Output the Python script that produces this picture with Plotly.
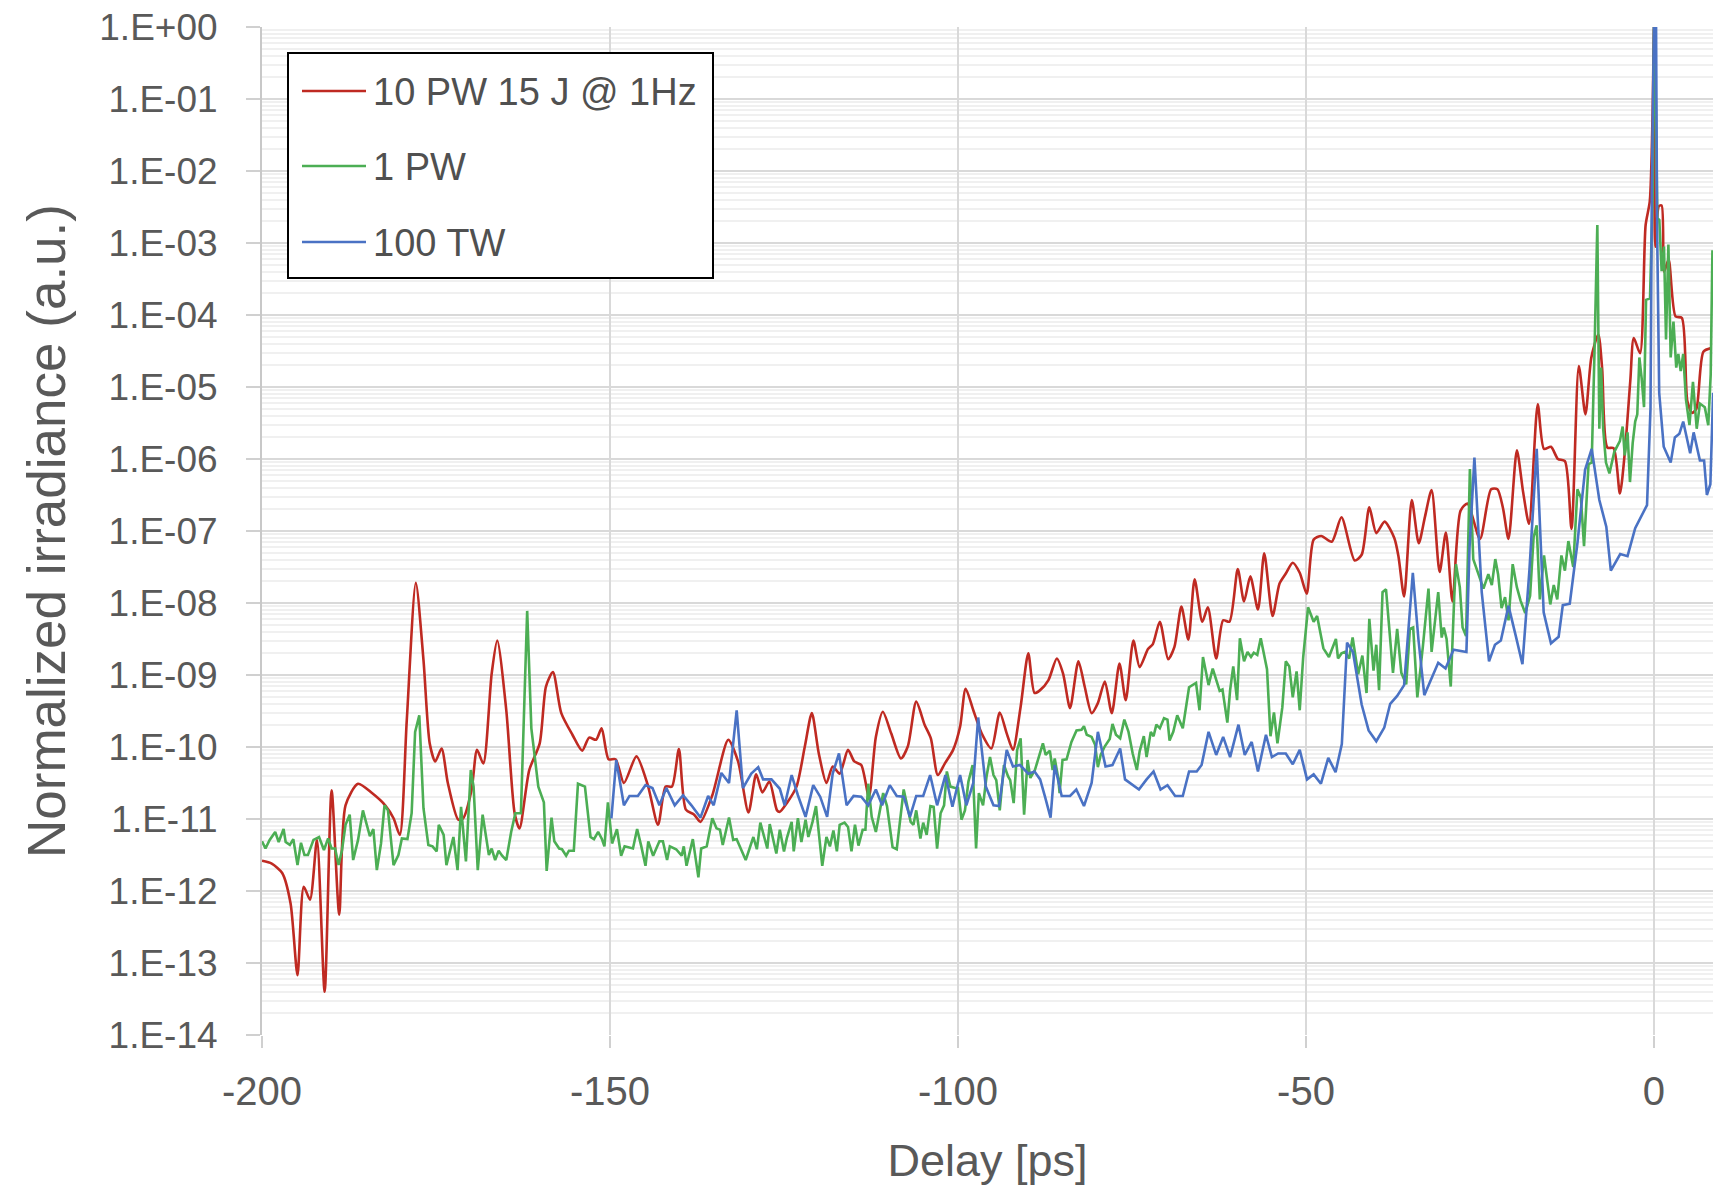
import numpy as np
import plotly.graph_objects as go

# ---------------- data (x in ps, y as log10 of normalized irradiance) -------------
red_x = [-200.0, -198.6, -197.1, -195.9, -194.9, -194.0, -193.1, -192.1, -191.0, -190.0, -188.9, -188.0,
         -186.2, -184.2, -182.3, -181.1, -180.2, -179.2, -177.9, -176.8, -175.9, -175.1, -174.2, -173.3,
         -171.8, -171.1, -169.9, -169.1, -168.2, -167.0, -166.2, -164.9, -163.7, -163.0, -161.6, -160.1,
         -159.2, -158.2, -157.0, -155.4, -154.0, -153.0, -152.0, -151.2, -150.2, -149.2, -148.0, -146.2,
         -144.6, -143.1, -142.0, -141.1, -140.1, -139.1, -137.9, -137.0, -135.3, -133.0, -131.6, -130.1,
         -129.0, -128.1, -127.1, -126.0, -125.6, -124.6, -123.2, -122.0, -121.0, -120.0, -118.9, -118.0,
         -117.0, -115.8, -114.9, -113.9, -112.8, -111.8, -110.8, -109.6, -108.2, -107.2, -106.0, -104.8,
         -103.9, -102.9, -101.9, -100.7, -99.7, -98.9, -97.8, -96.6, -95.2, -94.0, -93.0, -92.1, -91.0,
         -89.9, -89.0, -88.2, -87.0, -85.8, -84.9, -83.9, -82.7, -81.8, -80.8, -79.9, -78.9, -77.9, -76.8,
         -75.9, -74.8, -73.9, -72.7, -72.0, -71.0, -69.8, -68.9, -67.9, -66.9, -66.0, -64.9, -64.1, -62.9,
         -61.9, -61.0, -59.8, -58.9, -58.0, -56.9, -56.0, -54.8, -53.8, -52.9, -51.9, -50.9, -49.9, -48.9,
         -47.8, -46.3, -44.9, -43.0, -42.0, -40.9, -39.9, -38.7, -37.3, -36.7, -35.9, -34.8, -33.8, -32.9,
         -31.95, -30.8, -29.9, -28.95, -27.8, -26.8, -25.0, -23.4, -22.5, -21.7, -20.9, -19.7, -18.8,
         -17.95, -16.7, -15.8, -14.8, -13.8, -12.8, -11.85, -10.8, -9.85, -9.0, -8.0, -7.45, -6.7, -5.8,
         -4.9, -4.2, -3.4, -2.9, -2.0, -1.2, -0.6, -0.2, 0.0, 0.2, 0.7, 1.1, 1.45, 2.1, 3.1, 4.0, 4.8,
         5.5, 6.1, 7.1, 8.2]
red_log10 = [-11.58, -11.62, -11.75, -12.17, -13.17, -11.94, -12.12, -11.29, -13.40, -10.60, -12.33, -10.81,
             -10.51, -10.64, -10.81, -10.99, -11.22, -9.63, -7.72, -8.79, -9.95, -10.20, -10.02, -10.50,
             -11.01, -10.99, -10.60, -10.04, -10.23, -8.98, -8.52, -9.49, -10.92, -11.13, -10.32, -9.95,
             -9.16, -8.96, -9.53, -9.83, -10.05, -9.87, -9.90, -9.74, -10.17, -10.17, -10.50, -10.13,
             -10.52, -11.08, -10.55, -10.55, -10.03, -10.87, -10.94, -11.04, -10.67, -9.90, -10.20, -10.91,
             -10.38, -10.63, -10.48, -10.88, -10.90, -10.78, -10.55, -9.99, -9.53, -10.09, -10.50, -10.27,
             -10.37, -10.04, -10.20, -10.25, -10.69, -9.86, -9.51, -9.81, -10.16, -9.99, -9.37, -9.69,
             -9.88, -10.39, -10.23, -10.04, -9.72, -9.19, -9.49, -9.81, -10.02, -9.52, -9.81, -10.04, -9.44,
             -8.70, -9.25, -9.21, -9.07, -8.77, -8.98, -9.46, -8.81, -9.16, -9.53, -9.39, -9.09, -9.53, -8.84,
             -9.35, -8.52, -8.89, -8.64, -8.57, -8.26, -8.78, -8.61, -8.05, -8.51, -7.67, -8.26, -8.06, -8.77,
             -8.24, -8.26, -7.53, -7.98, -7.63, -8.09, -7.31, -8.18, -7.73, -7.59, -7.44, -7.58, -7.87, -7.12,
             -7.07, -7.15, -6.81, -7.41, -7.33, -6.67, -7.03, -6.87, -7.10, -7.36, -7.91, -6.57, -7.17, -6.80,
             -6.43, -7.57, -7.02, -7.98, -6.72, -6.62, -7.11, -6.42, -6.42, -6.68, -7.11, -5.88, -6.46,
             -6.90, -5.24, -5.86, -5.83, -6.00, -6.03, -6.97, -4.71, -5.38, -4.59, -4.27, -4.74, -5.84, -5.85,
             -6.48, -5.92, -4.91, -4.32, -4.53, -2.75, -2.42, -1.20, 0.0, -3.05, -2.49, -2.48, -3.40, -3.23,
             -4.02, -4.04, -5.20, -5.36, -5.30, -4.51, -4.46]

green_x = [-200.0, -199.5, -198.9, -198.1, -197.6, -196.9, -196.6, -196.0, -195.5, -194.9, -194.4, -193.9,
           -193.4, -192.6, -191.8, -191.1, -190.5, -190.0, -189.5, -189.0, -188.5, -188.0, -187.4, -186.9,
           -186.2, -185.5, -185.0, -184.5, -184.0, -183.5, -182.9, -182.4, -181.9, -181.1, -180.4, -179.9,
           -179.1, -178.5, -178.0, -177.4, -176.8, -176.1, -175.5, -174.9, -174.6, -173.9, -173.5, -172.5,
           -171.9, -171.4, -170.7, -170.0, -169.6, -169.0, -168.3, -167.9, -167.4, -167.0, -166.5, -166.0,
           -165.5, -164.9, -164.2, -163.6, -162.8, -161.9, -161.3, -160.3, -159.5, -159.1, -158.4, -158.0,
           -157.3, -156.9, -156.3, -155.9, -155.2, -154.6, -153.6, -152.8, -152.3, -151.7, -151.2, -150.8,
           -150.3, -149.7, -149.0, -148.4, -147.9, -146.7, -146.1, -145.5, -144.9, -144.5, -143.8, -142.9,
           -142.4, -141.8, -141.4, -140.5, -139.7, -139.4, -139.0, -138.1, -137.3, -136.9, -136.1, -135.3,
           -134.7, -134.2, -133.8, -132.9, -132.3, -131.8, -130.5, -129.4, -128.9, -128.4, -127.4, -127.05,
           -126.1, -125.6, -125.0, -124.6, -123.9, -123.6, -123.0, -122.5, -121.9, -121.5, -120.9, -120.4,
           -120.0, -119.5, -118.9, -118.4, -117.9, -117.4, -117.0, -116.3, -115.8, -115.3, -114.8, -114.3,
           -113.7, -113.3, -112.9, -112.4, -111.8, -110.75, -110.2, -109.4, -108.8, -107.8, -106.8, -106.4,
           -106.0, -105.4, -105.0, -104.5, -103.96, -103.5, -103.0, -102.5, -102.0, -101.6, -101.1, -100.4,
           -100.0, -99.5, -99.0, -98.5, -97.9, -97.4, -97.0, -96.4, -95.9, -95.4, -94.9, -94.5, -94.0,
           -93.4, -92.8, -92.5, -92.0, -91.5, -91.0, -90.5, -90.0, -89.6, -88.95, -88.3, -87.8, -87.4,
           -86.8, -86.4, -86.1, -85.6, -85.4, -84.98, -84.4, -83.7, -82.97, -82.25, -81.9, -81.5, -80.8,
           -80.3, -79.9, -79.5, -78.9, -78.2, -77.8, -77.3, -76.7, -76.1, -75.5, -74.9, -74.3, -73.9, -73.3,
           -72.9, -72.3, -71.9, -71.5, -71.0, -70.4, -69.9, -69.6, -69.07, -68.5, -67.7, -66.8, -65.8, -65.3,
           -64.8, -64.0, -63.4, -62.8, -62.4, -62.0, -61.3, -60.9, -60.45, -59.9, -59.5, -58.9, -58.4, -57.9,
           -57.5, -57.0, -56.5, -55.6, -55.1, -54.6, -54.1, -53.4, -52.9, -52.4, -51.9, -51.35, -50.9, -50.4,
           -49.7, -48.9, -48.4, -47.5, -46.7, -45.7, -45.4, -44.9, -44.4, -43.8, -43.3, -42.5, -41.9, -41.3,
           -40.9, -40.3, -39.9, -39.5, -39.0, -38.5, -38.0, -37.5, -36.9, -36.3, -35.6, -35.07, -34.6, -34.0,
           -33.2, -32.4, -31.95, -31.0, -30.5, -30.2, -29.8, -29.2, -28.7, -28.45, -27.9, -27.5, -27.0,
           -26.45, -25.97, -25.5, -24.5, -23.8, -23.3, -22.8, -22.4, -21.9, -21.4, -20.9, -20.3, -19.7,
           -19.16, -18.5, -17.8, -17.3, -16.86, -16.4, -15.8, -14.9, -14.4, -13.9, -13.3, -12.8, -12.3,
           -11.6, -11.0, -10.5, -10.05, -9.4, -8.95, -8.57, -8.14, -7.85, -7.6, -7.3, -6.9, -6.4, -5.7, -4.9,
           -4.5, -4.2, -3.8, -3.45, -3.06, -2.7, -2.4, -2.1, -1.77, -1.43, -1.14, -0.57, -0.18, 0.0, 0.2,
           0.48, 0.77, 1.1, 1.44, 1.73, 2.07, 2.4, 2.8, 3.2, 3.5, 3.84, 4.2, 4.6, 5.1, 5.6, 6.14, 6.6, 7.3,
           7.8, 8.15, 8.4]
green_log10 = [-11.31, -11.41, -11.29, -11.18, -11.32, -11.14, -11.32, -11.36, -11.28, -11.64, -11.33, -11.50,
               -11.50, -11.29, -11.25, -11.43, -11.27, -11.41, -11.41, -11.64, -11.43, -11.08, -10.94, -11.57,
               -11.29, -10.88, -11.06, -11.24, -11.14, -11.71, -11.34, -10.81, -10.88, -11.64, -11.50, -11.27,
               -11.28, -10.92, -9.79, -9.56, -10.85, -11.36, -11.38, -11.45, -11.08, -11.22, -11.64, -11.25,
               -11.71, -10.83, -11.59, -10.32, -10.55, -11.71, -10.94, -11.18, -11.50, -11.41, -11.57, -11.44,
               -11.51, -11.57, -11.18, -10.92, -10.92, -8.11, -9.74, -10.55, -10.77, -11.72, -10.98, -11.31,
               -11.41, -11.42, -11.51, -11.44, -11.44, -10.51, -10.55, -11.25, -11.28, -11.18, -11.27, -11.38,
               -10.77, -11.34, -11.14, -11.51, -11.38, -11.41, -11.14, -11.38, -11.65, -11.31, -11.51, -11.31,
               -11.31, -11.57, -11.38, -11.42, -11.51, -11.38, -11.65, -11.28, -11.81, -11.41, -11.38, -10.99,
               -11.13, -11.15, -11.36, -10.98, -11.29, -11.28, -11.57, -11.25, -11.42, -11.05, -11.41, -11.07,
               -11.48, -11.15, -11.45, -11.27, -11.04, -11.45, -10.99, -11.32, -11.01, -11.25, -11.04, -10.82,
               -11.18, -11.65, -11.25, -11.38, -11.16, -11.45, -11.08, -11.05, -11.11, -11.45, -11.08, -11.37,
               -11.15, -11.15, -10.51, -10.97, -11.18, -10.64, -10.82, -11.39, -11.42, -10.59, -11.04, -11.08,
               -10.88, -11.27, -11.05, -11.22, -10.82, -10.83, -11.41, -10.92, -10.81, -10.34, -10.55, -10.57,
               -10.57, -11.01, -10.88, -10.48, -10.25, -11.41, -10.64, -10.81, -10.41, -10.14, -10.39, -10.46,
               -10.88, -10.25, -10.41, -10.46, -10.78, -10.04, -9.88, -10.94, -10.18, -10.43, -10.32, -10.09,
               -9.95, -10.11, -10.05, -10.32, -10.16, -10.43, -10.64, -10.18, -10.17, -9.93, -9.77, -9.76, -9.71,
               -9.83, -9.86, -9.97, -10.28, -10.11, -9.99, -9.89, -9.68, -9.83, -9.88, -9.62, -9.79, -10.09,
               -10.32, -10.06, -9.85, -10.14, -9.79, -9.85, -9.69, -9.74, -9.60, -9.62, -9.91, -9.79, -9.56,
               -9.74, -9.17, -9.11, -9.49, -8.75, -9.14, -8.91, -9.08, -9.22, -9.20, -9.66, -9.21, -8.88, -9.35,
               -8.49, -8.81, -8.68, -8.75, -8.69, -8.72, -8.49, -8.92, -9.85, -9.52, -9.95, -9.45, -8.81, -8.88,
               -9.31, -8.95, -9.49, -8.75, -8.06, -8.26, -8.18, -8.63, -8.75, -8.50, -8.77, -8.70, -8.68, -8.77,
               -8.48, -8.99, -8.73, -9.25, -8.22, -8.94, -8.58, -9.21, -7.85, -7.81, -8.38, -8.97, -8.36, -8.97,
               -9.13, -8.36, -8.34, -9.31, -8.60, -7.80, -8.68, -7.85, -8.48, -8.34, -8.50, -9.16, -7.92, -7.46,
               -7.78, -8.34, -8.46, -6.14, -7.39, -7.53, -7.80, -7.60, -7.75, -7.39, -7.60, -8.07, -7.92, -8.24,
               -7.46, -7.78, -7.97, -8.14, -7.90, -7.09, -6.92, -7.95, -7.34, -8.02, -7.75, -7.95, -7.34, -7.55,
               -7.14, -7.50, -6.42, -6.54, -7.21, -6.07, -6.05, -4.61, -2.75, -5.58, -4.73, -5.58, -6.05, -6.20,
               -5.90, -5.75, -5.55, -5.95, -5.63, -6.32, -5.78, -5.48, -5.38, -4.59, -4.88, -5.28, -3.79, -3.77,
               -2.30, 0.0, -0.62, -2.65, -2.68, -3.39, -3.05, -4.34, -3.02, -4.59, -4.09, -4.73, -4.54, -4.78,
               -4.54, -5.18, -5.53, -4.93, -5.58, -5.23, -5.28, -5.53, -4.83, -3.10]

blue_x = [-149.8, -149.1, -148.0, -147.2, -146.0, -144.9, -143.9, -142.9, -141.9, -140.7, -139.5, -138.3,
          -137.0, -135.9, -135.1, -134.0, -132.9, -131.8, -130.9, -129.7, -128.7, -128.0, -126.8, -125.6,
          -124.9, -123.9, -123.0, -121.9, -120.8, -119.8, -118.8, -118.0, -117.1, -116.0, -115.0, -113.9,
          -112.9, -111.8, -110.9, -109.8, -108.8, -107.8, -106.9, -106.0, -105.0, -104.0, -103.0, -101.8,
          -100.8, -99.7, -98.8, -97.8, -97.1, -96.0, -94.9, -94.1, -93.0, -92.1, -91.1, -89.9, -89.0, -88.2,
          -87.5, -86.7, -86.1, -85.1, -83.9, -83.0, -81.9, -80.8, -79.9, -78.8, -77.8, -76.7, -76.0, -75.1,
          -74.0, -72.9, -71.9, -70.9, -69.9, -68.8, -67.7, -66.8, -65.7, -65.0, -64.0, -62.9, -61.9, -60.9,
          -59.7, -58.8, -57.8, -56.9, -55.75, -54.9, -54.0, -52.9, -51.9, -50.9, -49.85, -48.9, -47.85,
          -46.8, -45.75, -44.85, -44.1, -43.25, -42.0, -41.0, -39.9, -38.75, -37.9, -36.9, -35.9, -34.65,
          -33.85, -33.0, -31.95, -31.0, -29.95, -28.8, -26.95, -26.5, -25.8, -24.75, -23.7, -22.85, -22.0,
          -20.9, -19.85, -18.9, -17.9, -16.85, -15.85, -14.8, -13.7, -13.1, -12.1, -11.0, -9.9, -8.95,
          -7.85, -6.85, -6.2, -4.85, -3.8, -2.7, -1.0, -0.5, -0.3, -0.15, 0.0, 0.15, 0.3, 0.45, 0.75, 1.4,
          1.8, 2.4, 3.0, 3.65, 4.2, 5.2, 5.7, 6.6, 7.2, 7.6, 8.1, 8.5]
blue_log10 = [-10.99, -10.18, -10.81, -10.68, -10.68, -10.53, -10.57, -10.81, -10.57, -10.81, -10.67, -10.81,
              -10.98, -10.68, -10.81, -10.36, -10.50, -9.49, -10.57, -10.37, -10.28, -10.45, -10.45, -10.58,
              -10.81, -10.39, -10.67, -10.97, -10.53, -10.69, -10.97, -10.37, -10.09, -10.81, -10.68, -10.69,
              -10.81, -10.59, -10.81, -10.53, -10.68, -10.69, -10.97, -10.68, -10.68, -10.39, -10.81, -10.39,
              -10.83, -10.39, -10.81, -10.50, -9.59, -10.55, -10.81, -10.82, -10.04, -10.27, -10.25, -10.37,
              -10.34, -10.45, -10.69, -10.98, -10.25, -10.68, -10.68, -10.59, -10.82, -10.50, -9.79, -10.27,
              -10.25, -10.02, -10.45, -10.51, -10.59, -10.45, -10.34, -10.59, -10.53, -10.68, -10.68, -10.34,
              -10.34, -10.25, -9.79, -10.11, -9.86, -10.14, -9.69, -10.11, -9.93, -10.34, -9.83, -10.14,
              -10.09, -10.09, -10.24, -10.04, -10.45, -10.38, -10.51, -10.15, -10.35, -9.96, -8.55, -8.68,
              -9.41, -9.77, -9.92, -9.73, -9.40, -9.29, -9.14, -7.58, -8.50, -9.28, -9.05, -8.83, -8.91, -8.65,
              -8.68, -7.23, -5.98, -7.85, -8.81, -8.58, -8.52, -8.04, -8.46, -8.85, -7.55, -5.86, -8.13, -8.56,
              -8.47, -8.03, -8.01, -7.17, -6.15, -5.86, -6.57, -6.94, -7.55, -7.32, -7.35, -6.96, -6.64, -5.30,
              -2.20, -0.80, 0.0, -0.50, 0.0, -2.80, -5.08, -5.83, -5.92, -6.05, -5.70, -5.65, -5.48, -5.92,
              -5.63, -6.02, -6.02, -6.50, -6.35, -5.08]

series_names = ["10 PW 15 J @ 1Hz", "1 PW", "100 TW"]
series_colors = ["#BF2A22", "#4CAE54", "#4A72C4"]

x_tick_vals = [-200, -150, -100, -50, 0]
y_exponents = list(range(0, -15, -1))
y_tick_vals = [10.0 ** e for e in y_exponents]
y_tick_text = ["1.E+00" if e == 0 else "1.E-%02d" % (-e) for e in y_exponents]
minor_vals = [m * 10.0 ** e for e in range(-14, 0) for m in range(2, 10)]

FONT = "Liberation Sans, Arial, sans-serif"
TXT = "#595959"

fig = go.Figure()
for xs, ls, name, col, shape in [
    (red_x, red_log10, series_names[0], series_colors[0], "spline"),
    (green_x, green_log10, series_names[1], series_colors[1], "linear"),
    (blue_x, blue_log10, series_names[2], series_colors[2], "linear"),
]:
    fig.add_trace(go.Scatter(
        x=xs, y=np.power(10.0, np.array(ls)), mode="lines", name=name,
        line=dict(color=col, width=2.6, shape=shape, smoothing=0.7 if shape == "spline" else None),
        showlegend=False, cliponaxis=True,
    ))

# plot area in pixels: left 262, right 1713, top 27, bottom 1035
W, H = 1713, 1186
L, R, T, B = 262, 0, 27, 151
pw, ph = W - L - R, H - T - B


def px(X):
    return (X - L) / pw


def py(Y):
    return (H - B - Y) / ph


# legend drawn as a framed box
shapes = [dict(type="rect", xref="paper", yref="paper", x0=px(288), x1=px(713), y0=py(278), y1=py(53),
               line=dict(color="black", width=2), fillcolor="white", layer="above")]
annotations = []
rows_y = [91, 166, 242]
for name, col, ry in zip(series_names, series_colors, rows_y):
    shapes.append(dict(type="line", xref="paper", yref="paper", x0=px(302), x1=px(366), y0=py(ry), y1=py(ry),
                       line=dict(color=col, width=2.6), layer="above"))
    annotations.append(dict(xref="paper", yref="paper", x=px(371), y=py(ry + 1), text=name, showarrow=False,
                            xanchor="left", yanchor="middle", font=dict(family=FONT, size=38, color="#505050")))

fig.update_layout(
    width=W, height=H, margin=dict(l=L, r=R, t=T, b=B, pad=0),
    paper_bgcolor="white", plot_bgcolor="white",
    font=dict(family=FONT, color=TXT),
    shapes=shapes, annotations=annotations, showlegend=False,
    xaxis=dict(
        range=[-200, 8.48], tickmode="array", tickvals=x_tick_vals, ticktext=[str(v) for v in x_tick_vals],
        showgrid=True, gridcolor="#d9d9d9", gridwidth=2, zeroline=False, showline=False,
        ticks="outside", ticklen=12, tickwidth=2, tickcolor="#d0d0d0", ticklabelstandoff=9,
        tickfont=dict(family=FONT, size=40, color=TXT),
        title=dict(text="Delay [ps]", font=dict(family=FONT, size=45, color=TXT), standoff=33),
    ),
    yaxis=dict(
        type="log", range=[-14, 0], tickmode="array", tickvals=y_tick_vals, ticktext=y_tick_text,
        showgrid=True, gridcolor="#d9d9d9", gridwidth=2, zeroline=False,
        showline=True, linecolor="#c8c8c8", linewidth=2,
        ticks="outside", ticklen=14, tickwidth=2, tickcolor="#d0d0d0", ticklabelstandoff=21,
        tickfont=dict(family=FONT, size=37, color=TXT),
        minor=dict(tickmode="array", tickvals=minor_vals, showgrid=True, gridcolor="#f0f0f0", gridwidth=1.5,
                   ticks=""),
        title=dict(text="Normalized irradiance (a.u.)", font=dict(family=FONT, size=53, color=TXT), standoff=17),
    ),
)

fig.write_html("out.html", config={"displayModeBar": False},
               post_script="document.body.style.margin='0';document.body.style.overflow='hidden';")
